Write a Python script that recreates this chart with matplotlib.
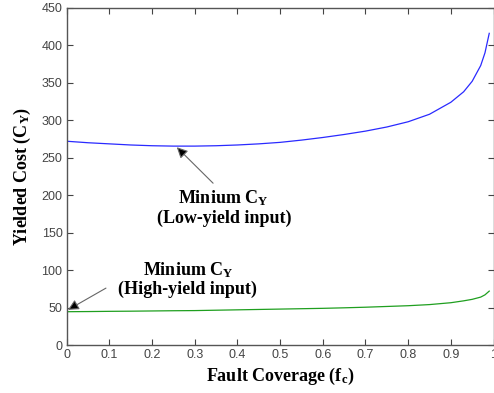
import matplotlib.pyplot as plt

# fault coverage samples and yielded cost
fc = [0.0, 0.05, 0.1, 0.15, 0.2, 0.25, 0.3, 0.35, 0.4, 0.45, 0.5, 0.55,
      0.6, 0.65, 0.7, 0.75, 0.8, 0.85, 0.9, 0.93, 0.95, 0.97, 0.98, 0.99]
cost_low = [272, 270, 268.5, 267, 266, 265.5, 265.5, 266, 267, 268.5, 270.5, 273.5,
            277, 281, 285.5, 291, 298, 308, 324, 338, 352, 373, 390, 416]
cost_high = [44.5, 44.7, 45, 45.2, 45.5, 45.8, 46, 46.5, 47, 47.5, 48, 48.5,
             49, 49.7, 50.5, 51.5, 52.5, 54, 56.5, 59, 61, 64, 67, 72]

xticks = [0, 0.1, 0.2, 0.3, 0.4, 0.5, 0.6, 0.7, 0.8, 0.9, 1]
xticklabels = ['0', '0.1', '0.2', '0.3', '0.4', '0.5', '0.6', '0.7', '0.8', '0.9', '1']
yticks = [0, 50, 100, 150, 200, 250, 300, 350, 400, 450]


def main():
    plt.rcParams['mathtext.fontset'] = 'custom'
    plt.rcParams['mathtext.rm'] = 'Liberation Serif:bold'
    plt.rcParams['mathtext.it'] = 'Liberation Serif:bold'
    plt.rcParams['mathtext.bf'] = 'Liberation Serif:bold'

    fig = plt.figure(figsize=(4.94, 3.93), dpi=100)
    ax = fig.add_axes([0.135, 0.122, 0.864, 0.858])

    ax.plot(fc, cost_low, color='#2a2aff', lw=0.9)
    ax.plot(fc, cost_high, color='#1f9f1f', lw=0.9)

    ax.set_xlim(0, 1)
    ax.set_ylim(0, 450)
    ax.set_xticks(xticks)
    ax.set_xticklabels(xticklabels)
    ax.set_yticks(yticks)
    ax.tick_params(direction='in', top=True, right=True, length=4, width=0.8,
                   labelsize=9, labelcolor='#444444', colors='#444444', pad=3)
    for lab in ax.get_xticklabels() + ax.get_yticklabels():
        lab.set_family('Liberation Sans')
    for sp in ax.spines.values():
        sp.set_color('#555555')
        sp.set_linewidth(1.0)

    serif = dict(family='Liberation Serif', fontweight='bold', fontsize=13)
    ax.set_xlabel(r'Fault Coverage (f$_\mathrm{c}$)', labelpad=3, **serif)
    ax.set_ylabel(r'Yielded Cost (C$_\mathrm{Y}$)', labelpad=6, **serif)

    ax.text(0.368, 183, r'Minium C$_\mathrm{Y}$' + '\n(Low-yield input)',
            ha='center', va='center', linespacing=1.1, **serif)
    ax.text(0.284, 88, r'Minium C$_\mathrm{Y}$' + '\n(High-yield input)',
            ha='center', va='center', linespacing=1.1, **serif)

    # gray shaft, black head
    arrow = dict(arrowstyle='-|>', ec='#666666', fc='black', lw=0.8,
                 mutation_scale=16, shrinkA=0, shrinkB=0)
    ax.annotate('', xy=(0.258, 264), xytext=(0.343, 216), arrowprops=arrow)
    ax.annotate('', xy=(0.003, 47), xytext=(0.092, 76), arrowprops=arrow)

    fig.savefig('out.png', dpi=100)


if __name__ == "__main__":
    main()
